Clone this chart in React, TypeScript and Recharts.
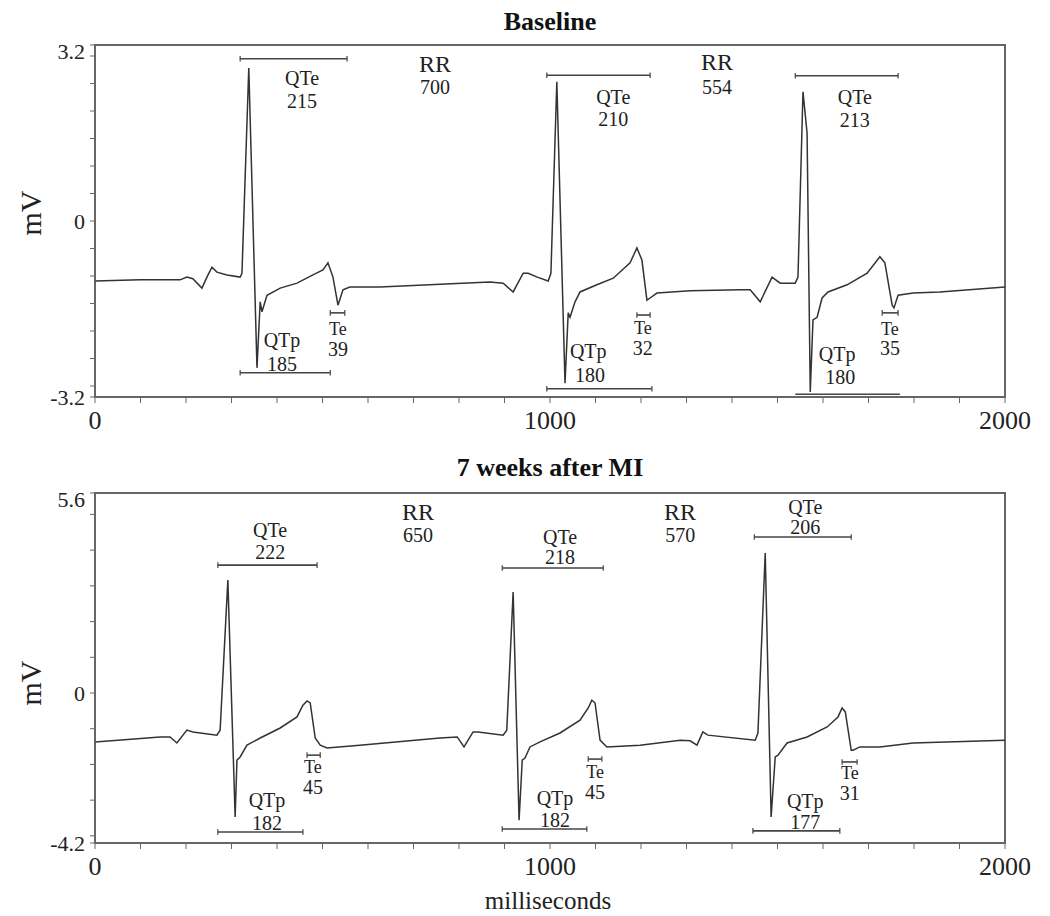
import React from "react";
import { LineChart, Line, XAxis, YAxis, ReferenceLine, ReferenceDot, ReferenceArea, Label } from "recharts";

const FONT = '"Liberation Serif", "Times New Roman", serif';

// baseline recording, time in ms and voltage in mV
const baselineTime = [0, 99, 187, 202, 215, 235, 246, 257, 268, 290, 319, 323, 338, 356, 363, 367, 378, 407, 444, 479,
    501, 512, 523, 534, 545, 560, 626, 868, 897, 919, 941, 952, 972, 996, 1002, 1015, 1033, 1040, 1044, 1055,
    1066, 1103, 1139, 1176, 1191, 1202, 1213, 1220, 1235, 1308, 1418, 1440, 1462, 1488, 1506, 1539, 1545, 1556, 1565, 1572,
    1578, 1587, 1598, 1611, 1653, 1697, 1725, 1736, 1752, 1756, 1765, 1798, 1857, 2000];
const baselineMv = [-1.09, -1.07, -1.07, -1.02, -1.05, -1.22, -1.02, -0.84, -0.93, -0.98, -1.02, -0.95, 2.78, -2.67, -1.47, -1.65, -1.35, -1.22, -1.13, -0.98,
    -0.89, -0.76, -1.02, -1.53, -1.25, -1.2, -1.2, -1.11, -1.13, -1.29, -0.95, -0.95, -1.02, -1.09, -0.95, 2.53, -2.95, -1.67, -1.75, -1.47,
    -1.29, -1.16, -1.04, -0.76, -0.49, -0.71, -1.44, -1.4, -1.31, -1.27, -1.25, -1.25, -1.47, -1.02, -1.13, -1.13, -1.02, 2.35, 1.6, -3.11,
    -1.8, -1.75, -1.4, -1.29, -1.16, -0.95, -0.65, -0.76, -1.53, -1.58, -1.35, -1.31, -1.29, -1.2];

// 7 weeks after MI
const miTime = [0, 143, 165, 180, 202, 215, 268, 275, 292, 308, 312, 319, 334, 363, 407, 444, 457, 466, 473, 484,
    495, 510, 582, 758, 796, 811, 831, 842, 897, 905, 919, 932, 939, 945, 956, 978, 1022, 1066, 1084, 1092,
    1099, 1110, 1125, 1198, 1286, 1308, 1323, 1336, 1347, 1451, 1457, 1473, 1486, 1495, 1501, 1521, 1565, 1609, 1633, 1642,
    1649, 1662, 1666, 1681, 1725, 1798, 2000];
const miMv = [-1.37, -1.23, -1.23, -1.4, -1.04, -1.09, -1.18, -1.04, 3.16, -3.47, -1.88, -1.79, -1.46, -1.26, -0.98, -0.67, -0.34, -0.22, -0.28, -1.26,
    -1.46, -1.54, -1.46, -1.26, -1.23, -1.51, -1.09, -1.09, -1.18, -1.04, 2.83, -3.56, -1.88, -1.82, -1.51, -1.37, -1.12, -0.76, -0.42, -0.2,
    -0.28, -1.32, -1.51, -1.46, -1.32, -1.34, -1.46, -1.09, -1.18, -1.32, -1.12, 3.92, -3.47, -1.79, -1.74, -1.4, -1.23, -0.95, -0.67, -0.42,
    -0.53, -1.6, -1.6, -1.51, -1.51, -1.4, -1.32];

const xTicks = [0, 100, 200, 300, 400, 500, 600, 700, 800, 900, 1000, 1100, 1200, 1300, 1400, 1500, 1600, 1700, 1800, 1900, 2000];
const xLabels = [0, 1000, 2000];
const baselineYTicks = [-3.2, -3, -2.5, -2, -1.5, -1, -0.5, 0, 0.5, 1, 1.5, 2, 2.5, 3, 3.2];
const baselineYLabels = [-3.2, 0, 3.2];
const miYTicks = [-4.2, -4, -3, -2, -1, 0, 1, 2, 3, 4, 5, 5.6];
const miYLabels = [-4.2, 0, 5.6];

// interval brackets: [start ms, end ms, level mV]
const baselineBrackets = [
    [319, 554, 2.95], [993, 1220, 2.65], [1539, 1765, 2.64],
    [319, 517, -2.76], [993, 1224, -3.05], [1539, 1769, -3.15],
    [517, 549, -1.67], [1191, 1220, -1.71], [1730, 1765, -1.67],
];
const miBrackets = [
    [270, 488, 3.58], [895, 1117, 3.5], [1449, 1662, 4.37],
    [270, 457, -3.89], [895, 1081, -3.81], [1446, 1637, -3.86],
    [466, 495, -1.74], [1084, 1114, -1.85], [1642, 1675, -1.93],
];

// annotation texts: [text, ms, mV]
const baselineNotes: [string, number, number][] = [
    ["QTe", 455, 2.61], ["215", 455, 2.19],
    ["RR", 747, 2.87], ["700", 747, 2.43],
    ["QTe", 1139, 2.26], ["210", 1139, 1.86],
    ["RR", 1367, 2.9], ["554", 1367, 2.43],
    ["QTe", 1670, 2.26], ["213", 1670, 1.84],
    ["QTp", 411, -2.17], ["185", 411, -2.59],
    ["Te", 534, -1.96], ["39", 534, -2.33],
    ["QTp", 1084, -2.37], ["180", 1088, -2.8],
    ["Te", 1204, -1.93], ["32", 1204, -2.3],
    ["QTp", 1631, -2.41], ["180", 1638, -2.84],
    ["Te", 1747, -1.96], ["35", 1747, -2.31],
];
const miNotes: [string, number, number][] = [
    ["QTe", 385, 4.57], ["222", 385, 3.95],
    ["RR", 710, 5.07], ["650", 710, 4.42],
    ["QTe", 1022, 4.38], ["218", 1022, 3.8],
    ["RR", 1286, 5.07], ["570", 1286, 4.42],
    ["QTe", 1561, 5.2], ["206", 1561, 4.64],
    ["QTp", 378, -2.98], ["182", 378, -3.64],
    ["Te", 479, -2.07], ["45", 479, -2.63],
    ["QTp", 1011, -2.93], ["182", 1011, -3.55],
    ["Te", 1099, -2.19], ["45", 1099, -2.76],
    ["QTp", 1561, -3.03], ["177", 1561, -3.62],
    ["Te", 1659, -2.22], ["31", 1659, -2.8],
];

function YTick(props: any) {
    const {x, y, payload, labels, topValue} = props;
    const v = payload.value;
    if (!labels.includes(v)) return null;
    const dy = v === topValue ? 6 : 0;
    return (
        <text x={x} y={y + dy} textAnchor="end" dominantBaseline="central" fontSize={22}
              fill="#222" fontFamily={FONT}>{String(v)}</text>
    );
}

function XTick(props: any) {
    const {x, y, payload} = props;
    const v = payload.value;
    if (!xLabels.includes(v)) return null;
    return (
        <text x={x} y={y} dy="0.75em" textAnchor="middle" fontSize={26}
              fill="#222" fontFamily={FONT}>{String(v)}</text>
    );
}

function Panel(props: any) {
    const {title, times, values, domain, yTicks, yLabels, brackets, notes, top, height,
        marginTop, marginBottom, xAxisHeight, mvOffset, showXTitle} = props;
    const data = times.map((t: number, i: number) => ({t: t, v: values[i]}));
    const d = (domain[1] - domain[0]) * 0.008;

    return (
        <div style={{position: "absolute", left: 0, top: top, width: 1034, height: height, fontFamily: FONT}}>
            <LineChart width={1034} height={height} data={data}
                       margin={{top: marginTop, right: 37, left: 0, bottom: marginBottom}}
                       style={{fontFamily: FONT}}>
                <XAxis dataKey="t" type="number" domain={[0, 2000]} ticks={xTicks} interval={0}
                       tickSize={6} tickMargin={6} height={xAxisHeight} stroke="#666" allowDataOverflow
                       tick={(p: any) => <XTick {...p}/>}>
                    {showXTitle && <Label content={(p: any) => {
                        const vb = p.viewBox;
                        return <text x={vb.x + vb.width / 2 - 2} y={vb.y + 57} textAnchor="middle"
                                     dominantBaseline="central" fontSize={25} fill="#222"
                                     fontFamily={FONT}>milliseconds</text>;
                    }}/>}
                </XAxis>
                <YAxis type="number" domain={domain} ticks={yTicks} interval={0} width={87}
                       tickSize={5} tickMargin={5} stroke="#666" allowDataOverflow
                       tick={(p: any) => <YTick {...p} labels={yLabels} topValue={domain[1]}/>}>
                    <Label content={(p: any) => {
                        const vb = p.viewBox;
                        const cy = vb.y + vb.height / 2 + mvOffset;
                        return <text x={22} y={cy} transform={`rotate(-90 22 ${cy})`} textAnchor="middle"
                                     dominantBaseline="central" fontSize={30} fill="#222"
                                     fontFamily={FONT}>mV</text>;
                    }}/>
                </YAxis>
                <ReferenceArea x1={0} x2={2000} y1={domain[0]} y2={domain[1]} fill="none"
                               stroke="#666" strokeWidth={2}/>
                {brackets.map((b: number[], i: number) => (
                    <ReferenceLine key={"b" + i} segment={[{x: b[0], y: b[2]}, {x: b[1], y: b[2]}]}
                                   stroke="#444" strokeWidth={1.6}/>
                ))}
                {brackets.map((b: number[], i: number) => (
                    <ReferenceLine key={"l" + i} segment={[{x: b[0], y: b[2] - d}, {x: b[0], y: b[2] + d}]}
                                   stroke="#444" strokeWidth={1.2}/>
                ))}
                {brackets.map((b: number[], i: number) => (
                    <ReferenceLine key={"r" + i} segment={[{x: b[1], y: b[2] - d}, {x: b[1], y: b[2] + d}]}
                                   stroke="#444" strokeWidth={1.2}/>
                ))}
                {notes.map((n: [string, number, number], i: number) => (
                    <ReferenceDot key={"n" + i} x={n[1]} y={n[2]} r={0} fill="none" stroke="none"
                                  label={{value: n[0], position: "center", fill: "#222", fontFamily: FONT,
                                      fontSize: n[0] === "RR" ? 24 : (n[0] === "Te" ? 18 : 20)}}/>
                ))}
                <Line dataKey="v" type="linear" stroke="#333" strokeWidth={1.5} dot={false}
                      isAnimationActive={false}/>
            </LineChart>
            <div style={{position: "absolute", left: 87, width: 910, top: props.titleTop, textAlign: "center",
                fontFamily: FONT, fontWeight: "bold", fontSize: 26, lineHeight: "28px", color: "#111"}}>
                {title}
            </div>
        </div>
    );
}

export default function App() {
    return (
        <div style={{position: "relative", width: 1034, height: 908, background: "#fff", fontFamily: FONT}}>
            <Panel title="Baseline" times={baselineTime} values={baselineMv} domain={[-3.2, 3.2]}
                   yTicks={baselineYTicks} yLabels={baselineYLabels} brackets={baselineBrackets}
                   notes={baselineNotes} top={0} height={440} marginTop={37} marginBottom={11}
                   xAxisHeight={40} mvOffset={-8} titleTop={0} showXTitle={false}/>
            <Panel title="7 weeks after MI" times={miTime} values={miMv} domain={[-4.2, 5.6]}
                   yTicks={miYTicks} yLabels={miYLabels} brackets={miBrackets}
                   notes={miNotes} top={440} height={468} marginTop={45} marginBottom={13}
                   xAxisHeight={60} mvOffset={15} titleTop={6} showXTitle={true}/>
        </div>
    );
}
